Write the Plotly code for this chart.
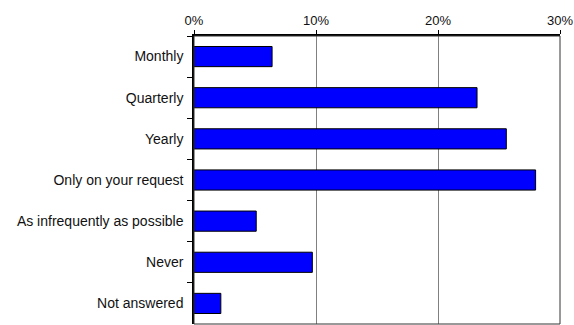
import plotly.graph_objects as go

categories = ["Monthly", "Quarterly", "Yearly", "Only on your request",
              "As infrequently as possible", "Never", "Not answered"]
values = [6.4, 23.2, 25.6, 28.0, 5.1, 9.7, 2.2]
tick_vals = [0, 10, 20, 30]
tick_text = ["0%", "10%", "20%", "30%"]

fig = go.Figure(go.Bar(
    x=values, y=categories, orientation="h",
    marker=dict(color="#0000FF", line=dict(color="black", width=1)),
    width=0.49,
))

fig.update_layout(
    width=574, height=325,
    margin=dict(l=194, r=11, t=36, b=1),
    paper_bgcolor="white", plot_bgcolor="white",
    font=dict(family="Liberation Sans, Arial, sans-serif", size=14, color="#111"),
    showlegend=False,
    shapes=[dict(type="rect", xref="paper", yref="paper", x0=0, x1=1, y0=0, y1=1,
                 line=dict(color="#333", width=1), layer="above")],
)
fig.update_xaxes(
    side="top", range=[0, 30], tickvals=tick_vals, ticktext=tick_text,
    tickfont=dict(size=13),
    showgrid=True, gridcolor="#808080", gridwidth=1,
    showline=True, linecolor="black", linewidth=1.5,
    ticks="outside", ticklen=4, tickcolor="black", zeroline=False,
    ticklabeloverflow="allow",
)
fig.update_yaxes(
    type="category", autorange="reversed",
    tickfont=dict(size=14),
    showline=True, linecolor="black", linewidth=1.5,
    ticks="outside", ticklen=5, tickcolor="black", tickson="boundaries",
    showgrid=False, ticklabelstandoff=6,
)

fig.write_html("out.html")
